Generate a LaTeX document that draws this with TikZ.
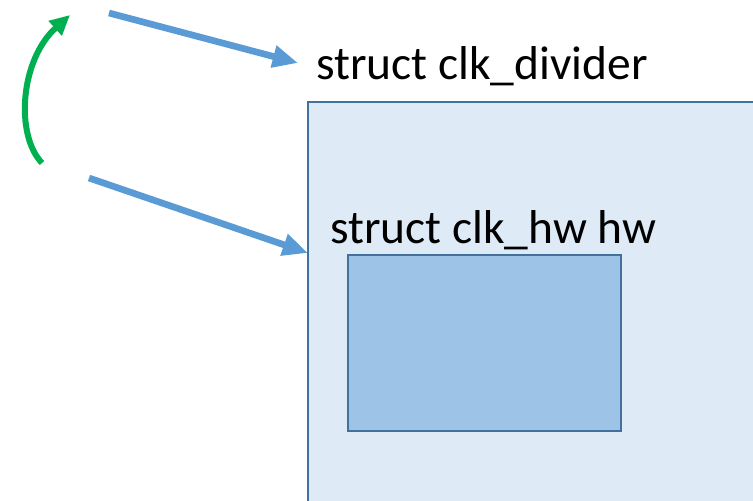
\documentclass[tikz,border=0pt]{standalone}
\usepackage{fontspec}
\setmainfont{Carlito}
\usetikzlibrary{arrows.meta}
\definecolor{flecha}{HTML}{5B9BD5}
\definecolor{borde}{HTML}{41719C}
\definecolor{fondoA}{HTML}{DEEBF7}
\definecolor{fondoB}{HTML}{9DC3E6}
\definecolor{verde}{HTML}{00B050}
\tikzset{
  flechaazul/.style={flecha, line width=5pt, -{Triangle[length=19pt, width=16pt]}},
  caja/.style={draw=borde, line width=1.5pt},
  etiqueta/.style={anchor=base west, inner sep=0pt, font=\fontsize{35.6}{40}\selectfont}
}
\begin{document}
\begin{tikzpicture}[x=0.75pt, y=-0.75pt]
	\useasboundingbox (0,0) rectangle (753,500);
	\clip (0,0) rectangle (753,500);
			% Cajas
				\draw[caja, fill=fondoA] (308,102) rectangle (780,530);
				\draw[caja, fill=fondoB] (348,255) rectangle (621,431);
			
			% Nombres
				\node[etiqueta] (divider) at (316,79) {struct clk\_divider};
				\node[etiqueta] (hw) at (330,243) {struct clk\_hw hw};
			
			% Puntos de las flechas
				\coordinate (p1) at (109,13);
				\coordinate (q1) at (298,63);
				\coordinate (p2) at (89,178);
				\coordinate (q2) at (308,253);
				\coordinate (g1) at (42,163);
				\coordinate (g2) at (70,15);
			
			% Flechas
				\draw[flechaazul] (p1) -- (q1);
				\draw[flechaazul] (p2) -- (q2);
				\draw[verde, line width=4.5pt, -{Triangle[length=15pt, width=14pt]}] (g1) .. controls (15,135) and (20,60) .. (g2);
		\end{tikzpicture}
\end{document}
